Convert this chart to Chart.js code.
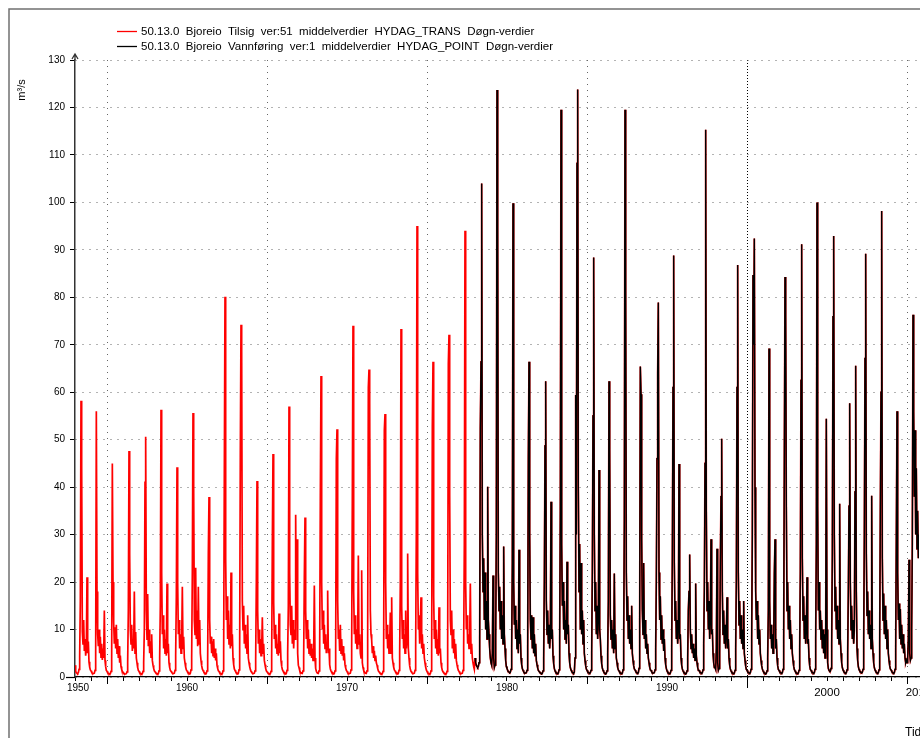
<!DOCTYPE html>
<html>
<head>
<meta charset="utf-8">
<title>50.13.0 Bjoreio</title>
<script src="https://cdn.jsdelivr.net/npm/chart.js@4.4.0/dist/chart.umd.min.js"></script>
<style>
  html, body { margin: 0; padding: 0; background: #fff; }
</style>
</head>
<body>
<canvas id="grafica" width="920" height="738"></canvas>
<script>
// Verdier lest av figuren, 24 verdier per år (halvmånedlig), m3/s
const perAar = 24;

const tilsigStart = 1953;
const tilsig = [
  [2.5, 1.2, 0.9, 0.8, 0.7, 0.9, 1.6, 4.2, 16, 58.2, 44.5, 9.5, 7, 12, 5.5, 8, 4.5, 6, 21, 5, 7.5, 3.2, 2.1, 1.5],
  [1.3, 1.0, 0.8, 0.7, 0.7, 0.8, 1.4, 3.8, 56, 18, 9, 6.5, 10, 5, 8.5, 4.2, 7, 3.6, 6, 4, 14, 3.5, 2.2, 1.4],
  [1.2, 0.9, 0.8, 0.7, 0.6, 0.7, 1.2, 3.5, 45, 20, 11.5, 7, 10.5, 6, 11, 5, 8, 4, 6.5, 3, 4.5, 2.2, 1.6, 1.2],
  [1.0, 0.8, 0.7, 0.6, 0.6, 0.7, 1.1, 3, 14, 47.6, 26, 10, 7, 11, 5.5, 8, 6, 18, 5, 9.5, 4, 3, 2, 1.4],
  [1.2, 0.9, 0.8, 0.7, 0.6, 0.7, 1.2, 3, 10, 41, 50.6, 14, 8, 17.5, 6.5, 10, 5, 7.5, 4.2, 9, 3.5, 2.5, 1.8, 1.3],
  [1.1, 0.9, 0.8, 0.7, 0.6, 0.7, 1.3, 4, 15, 56.3, 22, 9, 13, 6, 10, 5, 8, 4.5, 19.7, 5, 7, 3, 2, 1.4],
  [1.2, 1.0, 0.8, 0.7, 0.7, 0.8, 1.4, 4.5, 17, 44.2, 20, 9, 12, 6, 9, 5, 7, 19, 6, 8.5, 4, 3, 2.1, 1.5],
  [1.3, 1.0, 0.9, 0.8, 0.7, 0.8, 1.5, 4, 22, 55.6, 40, 12, 9, 23, 8, 14, 6.5, 19, 7, 12, 5, 3.5, 2.4, 1.7],
  [1.4, 1.1, 0.9, 0.8, 0.7, 0.8, 1.3, 3.5, 26, 37.9, 12, 7, 8.5, 5, 7.5, 4.5, 8, 4, 6, 3.5, 5, 2.5, 1.8, 1.3],
  [1.2, 0.9, 0.8, 0.7, 0.6, 0.7, 1.3, 5, 43, 80.1, 25, 12, 17, 8, 14, 7, 11, 6, 22, 6.5, 9, 4, 2.6, 1.7],
  [1.4, 1.1, 0.9, 0.8, 0.7, 0.8, 1.5, 6, 47.8, 74.2, 68.8, 16, 10, 15, 7, 11, 6, 9, 5, 13, 4, 3, 2.2, 1.6],
  [1.2, 1.0, 0.8, 0.7, 0.7, 0.8, 1.3, 3.5, 20, 41.3, 14, 7, 10, 5, 8, 4.5, 6, 12.6, 5, 7, 3.5, 2.6, 1.8, 1.3],
  [1.1, 0.9, 0.8, 0.7, 0.6, 0.7, 1.2, 4, 28, 47, 15.8, 8, 11, 6, 9, 5, 7, 4.5, 13.4, 5, 7.5, 3.5, 2.3, 1.6],
  [1.3, 1.0, 0.9, 0.8, 0.7, 0.8, 1.4, 5, 15, 57, 22, 11, 9, 15, 7, 12, 6, 10, 8, 34.2, 12, 29, 5, 2.5],
  [2, 1.4, 1.0, 0.9, 0.8, 0.8, 1.3, 4, 21, 33.6, 14, 8, 12, 6, 10, 5, 8, 4.5, 7, 4, 6, 3.5, 5, 19.3],
  [4, 1.8, 1.2, 0.9, 0.8, 0.8, 1.3, 5, 38, 63.4, 20, 10, 14, 7, 11, 6, 9, 5, 7, 18.2, 5, 6, 2.6, 1.7],
  [1.3, 1.0, 0.9, 0.8, 0.7, 0.8, 1.3, 5, 46, 52.2, 16, 8, 10, 5.5, 11, 5, 8, 4.5, 6.5, 3.5, 5, 2.6, 1.9, 1.4],
  [1.2, 0.9, 0.8, 0.7, 0.7, 0.8, 1.5, 6, 37.7, 74, 18, 9, 13, 7, 10, 6, 8, 25.6, 7, 9, 5, 4, 22.5, 3],
  [2, 1.4, 1.1, 0.9, 0.8, 0.8, 1.3, 8, 61, 64.8, 58, 14, 9, 7.8, 5, 6.5, 4, 5.5, 3.5, 4.5, 3, 2.5, 1.8, 1.3],
  [1.1, 0.9, 0.8, 0.7, 0.6, 0.7, 1.2, 6, 52, 55.4, 20, 8, 11, 6, 9, 5, 7, 13.6, 5, 16.8, 4, 3, 2.1, 1.5],
  [1.3, 1.0, 0.9, 0.8, 0.7, 0.8, 1.4, 5, 20, 73.3, 15, 8, 12, 6, 9, 5, 14, 6, 8, 26, 6, 4, 2.4, 1.6],
  [1.2, 1.0, 0.8, 0.7, 0.7, 0.8, 1.4, 6, 31, 95, 22, 10, 13, 7, 11, 16.8, 6, 9, 5, 7, 4, 3, 2.1, 1.5],
  [1.2, 0.9, 0.8, 0.7, 0.6, 0.7, 1.3, 5, 52.8, 66.4, 17, 8, 12, 6, 10, 5, 8, 4.5, 14.7, 5, 6, 3, 2, 1.4],
  [1.1, 0.9, 0.8, 0.7, 0.6, 0.7, 1.2, 6, 66, 72.1, 38.6, 12, 9, 14, 6, 10, 5, 8, 4, 7, 3.5, 2.6, 1.9, 1.4],
  [1.2, 0.9, 0.8, 0.7, 0.7, 0.8, 1.4, 6, 28, 94, 20, 10, 13, 7, 9, 6, 8, 19.7, 5, 7, 4, 3, 2.2, 1.6]
];

const vannforingStart = 1978;
const vannforing = [
  [4, 3, 2.5, 2.2, 2, 2.2, 3, 8, 52.4, 66.4, 104, 30, 18, 25, 12, 22, 10, 16, 8, 40.1, 12, 9, 6, 4],
  [3, 2.5, 5, 21.4, 4, 2, 2.5, 8, 30, 123.7, 94.8, 22, 14, 19, 10, 16, 8, 13, 7, 27.5, 9, 6, 3.5, 2.2],
  [1.8, 1.4, 1.2, 1.0, 0.9, 1.0, 1.6, 6, 24, 99.8, 20, 11, 15, 8, 12, 6, 10, 5, 26.8, 7, 9, 4, 2.6, 1.8],
  [1.4, 1.1, 0.9, 0.8, 0.8, 0.9, 1.4, 6, 46, 66.4, 30, 12, 8, 13, 6, 12.6, 5, 9, 4.5, 7, 3.5, 2.6, 1.9, 1.4],
  [1.2, 1.0, 0.9, 0.8, 0.7, 0.8, 1.3, 4, 20, 48.7, 62.3, 16, 9, 14, 7, 11, 6, 9, 36.9, 8, 10, 4.5, 2.8, 1.8],
  [1.3, 1.0, 0.9, 0.8, 0.7, 0.8, 1.5, 8, 35, 119.5, 28, 15, 20, 10, 16, 8, 12, 7, 24.3, 9, 11, 5, 3, 2],
  [1.5, 1.2, 1.0, 0.9, 0.8, 1.0, 4, 59.4, 30, 108.2, 123.8, 40, 18, 28, 10, 24, 9, 14, 7, 12, 5, 3.5, 2.4, 1.7],
  [1.4, 1.1, 1.0, 0.9, 0.8, 0.9, 1.4, 5, 22, 55, 88.4, 30, 14, 20, 9, 15, 8, 12, 43.6, 10, 8, 4.5, 2.8, 1.9],
  [1.4, 1.1, 0.9, 0.8, 0.7, 0.8, 1.3, 5, 16, 62.3, 48, 13, 8, 12, 6, 10, 5, 21.8, 6, 9, 4, 3, 2, 1.5],
  [1.3, 1.0, 0.9, 0.8, 0.7, 0.8, 1.5, 7, 33, 119.5, 81.4, 22, 12, 17, 8, 13, 7, 10, 6, 15, 5, 3.5, 2.4, 1.7],
  [1.5, 1.2, 1.0, 0.9, 0.8, 0.9, 1.8, 12, 65.4, 59.6, 29, 14, 9, 24, 8, 12, 6, 9, 5, 7, 4, 3, 2.1, 1.5],
  [1.4, 1.1, 0.9, 0.8, 0.8, 0.9, 1.5, 6, 20, 46, 64, 78.9, 22, 12, 17, 8, 13, 7, 10, 5.5, 8, 4, 2.6, 1.8],
  [1.3, 1.0, 0.9, 0.8, 0.7, 0.8, 1.4, 6, 25, 61, 88.8, 24, 12, 16, 8, 12, 7, 10, 44.9, 8, 9, 4, 2.5, 1.7],
  [1.3, 1.0, 0.9, 0.8, 0.7, 0.8, 1.3, 4, 14, 18, 25.8, 10, 6, 9, 5, 7, 4, 6, 3.5, 19.7, 4.5, 3, 2, 1.4],
  [1.4, 1.1, 1.0, 0.9, 0.8, 0.9, 1.5, 7, 18, 45, 115.3, 35, 14, 20, 10, 16, 8, 12, 29, 9, 10, 5, 3, 2],
  [2, 1.6, 6, 27, 3, 1.4, 1.8, 5, 24, 38, 50.2, 18, 9, 14, 7, 11, 6, 9, 16.8, 6, 8, 4, 2.5, 1.7],
  [1.3, 1.0, 0.9, 0.8, 0.7, 0.8, 1.4, 6, 20, 61, 86.8, 22, 11, 16, 8, 13, 7, 10, 6, 16, 5, 3.5, 2.3, 1.6],
  [1.4, 1.1, 1.0, 0.9, 0.8, 0.9, 1.6, 8, 30, 84.7, 70, 92.4, 40, 18, 12, 16, 8, 13, 7, 10, 5, 3.5, 2.4, 1.7],
  [1.3, 1.0, 0.9, 0.8, 0.7, 0.8, 1.3, 4, 14, 69.2, 16, 8, 11, 6, 9, 5, 7, 21.8, 29, 6, 8, 4, 2.4, 1.6],
  [1.4, 1.1, 1.0, 0.9, 0.8, 0.9, 1.6, 8, 46, 84.3, 76.3, 36, 14, 20, 10, 15, 8, 12, 6, 9, 5, 3.5, 2.3, 1.6],
  [1.3, 1.0, 0.9, 0.8, 0.7, 0.8, 1.4, 6, 22, 62.5, 91.2, 25, 12, 17, 8, 13, 7, 10, 21, 7, 8, 4, 2.4, 1.6],
  [1.4, 1.1, 1.0, 0.9, 0.8, 0.9, 1.6, 8, 28, 100, 36, 14, 20, 10, 14, 8, 12, 6, 10, 5, 9, 4, 8, 54.4],
  [10, 3, 1.8, 1.4, 1.2, 1.2, 1.8, 7, 26, 75.9, 92.9, 30, 14, 19, 10, 15, 8, 12, 7, 36.5, 8, 5, 3, 2],
  [1.5, 1.2, 1.0, 0.9, 0.8, 0.9, 1.5, 5, 18, 36, 57.7, 20, 10, 15, 8, 12, 7, 10, 39, 65.6, 18, 6, 3.5, 2.2],
  [1.6, 1.3, 1.1, 1.0, 0.9, 1.0, 1.6, 7, 30, 67.1, 89.2, 26, 13, 18, 9, 14, 8, 11, 6, 38.2, 8, 5, 3, 2],
  [1.5, 1.2, 1.0, 0.9, 0.8, 0.9, 1.5, 7, 35, 60, 98.2, 25, 12, 17.6, 9, 15, 8, 12, 6, 10, 5, 3.5, 2.4, 1.7],
  [1.5, 1.2, 1.0, 0.9, 0.8, 0.9, 1.6, 6, 30, 56, 22, 12, 15.5, 8, 14.3, 7, 11, 6, 9, 5, 7, 4, 3, 3.5],
  [3, 4, 8, 24.7, 5, 3.5, 4, 10, 28, 76.3, 56, 38, 52, 30, 44, 27, 35, 25, 30]
];

// Akser
const xMin = 1953;
const xMax = 2005.75;
const hovedAar = [1955, 1965, 1975, 1985, 1995, 2005];
const xEtiketter = ['1950', '1960', '1970', '1980', '1990', '2000', '2010'];
const xEtikettPos = [1953.19, 1960, 1970, 1980, 1990, 2000, 2005.72];
const yMin = 0;
const yMax = 130;
const ySteg = 10;

const serieNavn = [
  '50.13.0  Bjoreio  Tilsig  ver:51  middelverdier  HYDAG_TRANS  Døgn-verdier',
  '50.13.0  Bjoreio  Vannføring  ver:1  middelverdier  HYDAG_POINT  Døgn-verdier'
];
const serieFarge = ['#ff0000', '#000000'];

const skrift = '"Liberation Sans", Arial, Helvetica, sans-serif';
Chart.defaults.font.family = skrift;

// Gjør om årsrader til punkter
function tilPunkter(start, rader) {
  const punkter = [];
  for (let r = 0; r < rader.length; r++) {
    for (let i = 0; i < rader[r].length; i++) {
      punkter.push({ x: start + r + i / perAar, y: rader[r][i] });
    }
  }
  return punkter;
}

// Årsmerker, hovedmerker og etiketter på x-aksen
function lagXTicks() {
  const t = [];
  for (let a = Math.ceil(xMin); a <= Math.floor(xMax); a++) {
    t.push({ value: a, kind: hovedAar.includes(a) ? 'major' : 'minor' });
  }
  xEtikettPos.forEach((p, i) => {
    const treff = t.find(k => Math.abs(k.value - p) < 1e-6);
    if (treff) {
      treff.text = xEtiketter[i];
    } else {
      t.push({ value: p, kind: 'label', text: xEtiketter[i] });
    }
  });
  t.push({ value: xMax, kind: 'label', text: '' });
  t.sort((a, b) => a.value - b.value);
  return t;
}

const tilsigPunkter = tilPunkter(tilsigStart, tilsig);
const vannforingPunkter = tilPunkter(vannforingStart, vannforing);

const pynt = {
  id: 'pynt',
  beforeDraw(chart) {
    const c = chart.ctx;
    c.save();
    c.strokeStyle = '#707070';
    c.lineWidth = 1.5;
    c.beginPath();
    c.moveTo(9, chart.height);
    c.lineTo(9, 9);
    c.lineTo(chart.width, 9);
    c.stroke();
    c.restore();
  },
  afterDraw(chart) {
    const c = chart.ctx;
    const xs = chart.scales.x;
    const ys = chart.scales.y;
    const venstre = chart.chartArea.left;
    const bunn = ys.getPixelForValue(yMin);
    const topp = ys.getPixelForValue(yMax);
    c.save();

    // lange hovedmerker
    c.strokeStyle = '#000';
    c.lineWidth = 1;
    hovedAar.forEach(a => {
      const px = Math.round(xs.getPixelForValue(a)) + 0.5;
      c.beginPath();
      c.moveTo(px, bunn);
      c.lineTo(px, bunn + (a === 1995 ? 11 : 7));
      c.stroke();
    });

    // x-aksen starter litt til venstre for y-aksen
    c.lineWidth = 1.2;
    c.beginPath();
    c.moveTo(venstre - 9, bunn + 0.5);
    c.lineTo(venstre, bunn + 0.5);
    c.stroke();

    // pil på y-aksen
    c.strokeStyle = '#333';
    c.lineWidth = 1.3;
    c.beginPath();
    c.moveTo(venstre, topp);
    c.lineTo(venstre, topp - 5);
    c.moveTo(venstre - 3, topp - 1);
    c.lineTo(venstre, topp - 6);
    c.lineTo(venstre + 3, topp - 1);
    c.stroke();

    // forklaring
    c.font = '11.5px ' + skrift;
    c.textBaseline = 'middle';
    c.textAlign = 'left';
    serieNavn.forEach((navn, i) => {
      const y = 31 + i * 15;
      c.strokeStyle = serieFarge[i];
      c.lineWidth = 1.3;
      c.beginPath();
      c.moveTo(117, y + 0.5);
      c.lineTo(137, y + 0.5);
      c.stroke();
      c.fillStyle = '#000';
      c.fillText(navn, 141, y + 1);
    });

    // aksetitler
    c.fillStyle = '#000';
    c.font = '11px ' + skrift;
    c.save();
    c.translate(22, 90);
    c.rotate(-Math.PI / 2);
    c.textAlign = 'center';
    c.fillText('m³/s', 0, 0);
    c.restore();
    c.font = '12px ' + skrift;
    c.textAlign = 'left';
    c.fillText('Tid', 905, 733);
    c.restore();
  }
};

new Chart(document.getElementById('grafica'), {
  type: 'line',
  data: {
    datasets: [{
      label: serieNavn[0],
      data: tilsigPunkter.concat(vannforingPunkter),
      borderColor: serieFarge[0],
      borderWidth: 1.7,
      pointRadius: 0,
      tension: 0,
      order: 1
    }, {
      label: serieNavn[1],
      data: vannforingPunkter,
      borderColor: serieFarge[1],
      borderWidth: 1.4,
      pointRadius: 0,
      tension: 0,
      order: 0
    }]
  },
  options: {
    responsive: false,
    animation: false,
    layout: { padding: { top: 60, left: 0, right: 0, bottom: 0 } },
    plugins: {
      legend: { display: false },
      tooltip: { enabled: false }
    },
    scales: {
      x: {
        type: 'linear',
        min: xMin,
        max: xMax,
        afterBuildTicks: s => { s.ticks = lagXTicks(); },
        afterFit: s => { s.height = 61; },
        grid: {
          color: c => {
            if (!c.tick || c.tick.kind !== 'major') return 'rgba(0,0,0,0)';
            return c.tick.value === 1995 ? '#000' : '#666';
          },
          lineWidth: 1,
          drawTicks: true,
          tickLength: 4,
          tickWidth: 1,
          tickColor: c => (c.tick && c.tick.kind === 'label') ? 'rgba(0,0,0,0)' : '#000'
        },
        border: {
          display: true,
          color: '#000',
          width: 1.2,
          dash: c => (c.tick && c.tick.value === 1995) ? [1, 2] : [1, 5]
        },
        ticks: {
          autoSkip: false,
          maxRotation: 0,
          minRotation: 0,
          padding: 1,
          color: '#000',
          font: c => (c.tick && c.tick.value >= 2000)
            ? { family: skrift, size: 11.5, lineHeight: 1.85 }
            : { family: skrift, size: 10 },
          callback: (v, i, ticks) => ticks[i].text || ''
        }
      },
      y: {
        min: yMin,
        max: yMax,
        afterFit: s => { s.width = 75; },
        ticks: {
          stepSize: ySteg,
          padding: 5,
          color: '#000',
          font: { family: skrift, size: 10 }
        },
        grid: {
          color: '#666',
          lineWidth: 1,
          tickLength: 5,
          tickColor: '#000',
          drawTicks: true
        },
        border: { display: true, color: '#333', width: 1.5, dash: [1, 6] }
      }
    }
  },
  plugins: [pynt]
});
</script>
</body>
</html>
